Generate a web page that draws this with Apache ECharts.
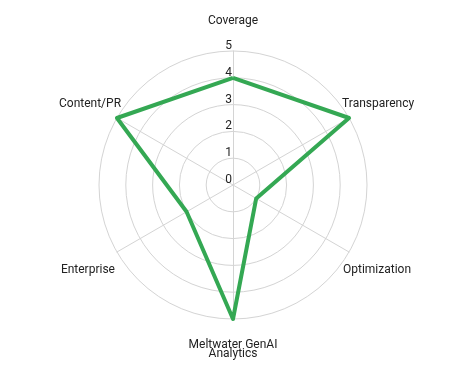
<!DOCTYPE html>
<html>
<head>
<meta charset="utf-8">
<script src="https://cdn.jsdelivr.net/npm/echarts@6/dist/echarts.min.js"></script>
<style>html,body{margin:0;padding:0;background:#fff;}#c{width:466px;height:371px;}</style>
</head>
<body>
<div id="c"></div>
<script>
// Indicators in ECharts order (counter-clockwise from top)
const categories = ['Coverage', 'Content/PR', 'Enterprise', 'Meltwater GenAI\nAnalytics', 'Optimization', 'Transparency'];
const values = [4, 5, 2, 5, 1, 5];
const tickLabels = ['0', '1', '2', '3', '4', '5'];
const maxValue = 5;

const nameGaps = [24, -4.7, 2.3, 21.5, -7, -8];
const richKeys = ['cov', 'con', 'ent', 'mel', 'opt', 'tra'];

const chart = echarts.init(document.getElementById('c'), null, {renderer: 'canvas'});
chart.setOption({
  animation: false,
  backgroundColor: '#fff',
  radar: {
    center: [233, 185],
    radius: 134,
    startAngle: 90,
    shape: 'circle',
    splitNumber: 5,
    axisName: {
      color: '#222',
      fontFamily: 'Roboto',
      fontSize: 12,
      formatter: function (name, ind) {
        const i = categories.indexOf(name);
        return '{' + richKeys[i] + '|' + name + '}';
      },
      rich: {
        cov: {fontFamily: 'Roboto', fontSize: 12, color: '#222', padding: [0, 0, 0, 0]},
        con: {fontFamily: 'Roboto', fontSize: 12, color: '#222', padding: [0, 0, 33, 0]},
        ent: {fontFamily: 'Roboto', fontSize: 12, color: '#222', padding: [34, 0, 0, 0]},
        mel: {fontFamily: 'Roboto', fontSize: 12, color: '#222', lineHeight: 9, align: 'center'},
        opt: {fontFamily: 'Roboto', fontSize: 12, color: '#222', padding: [43, 0, 0, 0]},
        tra: {fontFamily: 'Roboto', fontSize: 12, color: '#222', padding: [0, 0, 36, 0]}
      }
    },
    axisLine: {lineStyle: {color: '#d4d4d4', width: 1}},
    splitLine: {lineStyle: {color: '#d4d4d4', width: 1}},
    splitArea: {show: false},
    axisTick: {show: false},
    axisLabel: {show: false},
    indicator: categories.map(function (c, i) {
      const ind = {name: c, min: 0, max: maxValue, nameGap: nameGaps[i]};
      if (i === 0) {
        ind.axisLabel = {
          show: true,
          color: '#222',
          fontFamily: 'Roboto',
          fontSize: 12,
          margin: 1,
          verticalAlign: 'bottom',
          lineHeight: 10,
          formatter: function (v) { return tickLabels[Math.round(v)]; }
        };
      }
      return ind;
    })
  },
  series: [{
    type: 'radar',
    symbol: 'none',
    lineStyle: {color: '#34a853', width: 4},
    data: [{value: values}]
  }]
});
</script>
</body>
</html>
